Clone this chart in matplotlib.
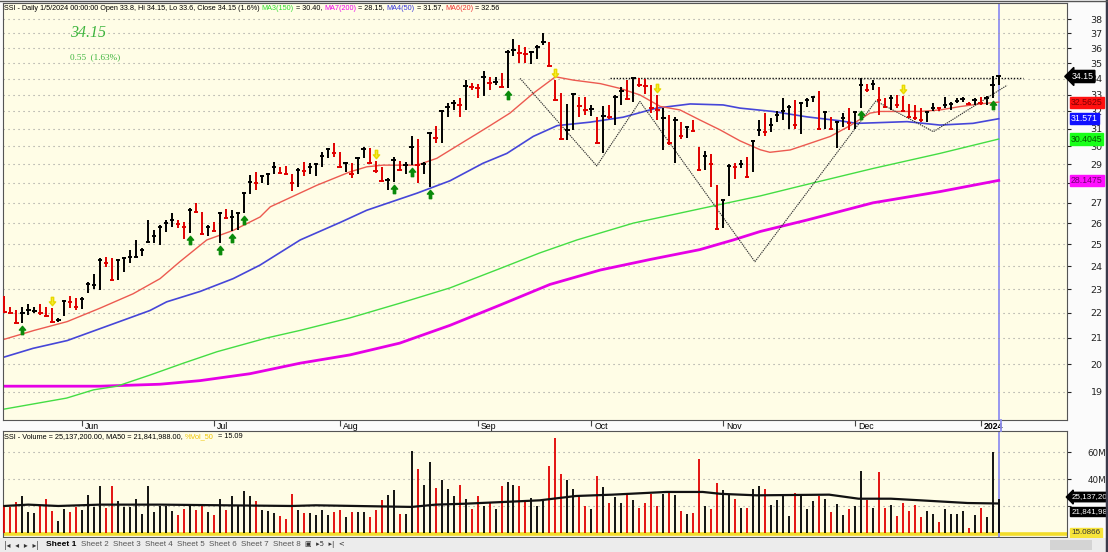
import matplotlib
matplotlib.use('Agg')
import matplotlib.pyplot as plt
import matplotlib.transforms as mtrans
from matplotlib.path import Path
from matplotlib.ticker import NullLocator, NullFormatter
from matplotlib.lines import Line2D
from matplotlib.patches import Rectangle

# ---- data (SSI daily, May 2023 - 5 Jan 2024) ----
highs = [22.70, 22.26, 22.12, 22.26, 22.37, 22.26, 22.37, 22.26, 22.19, 21.79,
         22.53, 22.71, 22.62, 22.68, 23.32, 23.65, 24.35, 24.43, 24.35, 24.31,
         24.43, 24.72, 25.20, 24.81, 26.15, 25.67, 25.91, 26.15, 26.48, 26.15,
         26.07, 26.72, 26.98, 26.55, 25.91, 26.07, 26.55, 26.67, 26.63, 26.51,
         27.52, 28.42, 28.59, 28.42, 28.54, 29.15, 28.84, 28.91, 28.47, 28.78,
         29.15, 29.09, 29.06, 29.66, 29.88, 30.16, 29.70, 29.15, 29.06, 29.42,
         29.97, 29.88, 29.19, 28.87, 28.30, 29.38, 29.19, 29.15, 30.57, 30.38,
         29.15, 30.80, 31.17, 32.09, 32.49, 32.69, 32.79, 33.92, 33.75, 33.70,
         34.52, 34.13, 34.09, 34.40, 35.85, 36.60, 36.20, 36.10, 35.80, 36.20,
         37.00, 36.43, 33.92, 33.10, 32.45, 33.10, 32.87, 32.90, 32.40, 31.65,
         32.30, 32.40, 33.00, 33.47, 33.92, 34.07, 34.07, 33.96, 33.60, 33.00,
         32.20, 31.80, 31.65, 31.40, 31.15, 31.50, 29.97, 29.74, 29.55, 27.92,
         27.15, 29.00, 29.06, 29.24, 29.38, 30.35, 31.50, 31.90, 31.60, 32.00,
         32.79, 32.39, 32.69, 32.59, 32.79, 32.96, 33.24, 32.00, 31.68, 31.43,
         31.90, 32.20, 32.00, 34.07, 33.70, 33.92, 33.50, 32.79, 33.00, 33.00,
         32.96, 32.43, 32.39, 32.20, 32.00, 32.49, 32.29, 32.90, 32.59, 32.84,
         32.86, 32.59, 32.79, 32.90, 32.96, 34.20, 34.15]
lows = [22.00, 21.95, 21.58, 21.58, 21.92, 21.99, 21.92, 21.85, 21.61, 21.65,
        21.89, 22.19, 22.12, 22.15, 22.82, 22.99, 22.96, 23.98, 23.36, 23.39,
        23.76, 24.13, 24.40, 24.46, 25.08, 25.08, 24.97, 25.59, 25.80, 25.75,
        25.24, 25.52, 26.48, 25.43, 25.39, 25.59, 25.04, 26.18, 25.62, 25.67,
        26.48, 27.44, 27.66, 28.00, 27.92, 28.51, 28.47, 28.42, 27.62, 27.83,
        28.37, 28.47, 28.37, 28.87, 29.33, 29.38, 28.78, 28.59, 28.30, 28.47,
        29.33, 29.02, 28.54, 28.08, 27.66, 28.08, 28.65, 28.47, 28.96, 28.00,
        28.51, 27.83, 30.16, 30.16, 31.65, 32.09, 31.68, 32.09, 33.33, 32.79,
        32.93, 33.33, 33.60, 33.46, 33.45, 35.50, 35.00, 35.00, 34.95, 35.25,
        36.20, 34.80, 32.60, 30.35, 30.35, 30.90, 31.68, 31.80, 31.73, 30.10,
        29.62, 31.53, 31.20, 32.40, 32.70, 32.55, 33.47, 33.05, 31.93, 31.50,
        29.80, 30.06, 29.10, 30.38, 30.44, 30.82, 28.65, 28.69, 27.83, 25.67,
        25.75, 27.36, 28.24, 28.78, 28.30, 28.59, 30.55, 30.55, 30.82, 31.40,
        31.50, 31.00, 31.00, 30.70, 32.29, 32.55, 30.92, 31.00, 30.92, 29.92,
        31.10, 30.92, 31.00, 32.20, 33.20, 33.30, 31.80, 32.20, 32.09, 32.20,
        32.00, 31.60, 31.50, 31.40, 31.40, 32.00, 32.00, 32.20, 32.09, 32.49,
        32.59, 32.39, 32.39, 32.39, 32.39, 32.79, 33.60]
closes = [22.05, 22.00, 21.60, 21.99, 22.12, 22.08, 21.99, 21.88, 21.63, 21.72,
          22.50, 22.46, 22.26, 22.56, 23.20, 23.17, 24.28, 24.16, 23.39, 24.28,
          24.38, 24.40, 24.43, 24.72, 25.12, 25.39, 25.80, 26.03, 26.15, 25.96,
          25.80, 26.63, 26.55, 25.47, 25.83, 25.63, 26.50, 26.24, 26.30, 26.48,
          27.49, 28.08, 28.00, 28.38, 28.51, 28.84, 28.54, 28.50, 28.00, 28.72,
          28.65, 28.84, 29.02, 29.46, 29.82, 29.64, 28.84, 29.06, 28.51, 29.33,
          29.82, 29.06, 28.63, 28.13, 28.19, 29.24, 28.69, 28.96, 29.97, 28.96,
          29.00, 30.75, 30.44, 32.03, 32.25, 32.53, 32.39, 33.55, 33.50, 33.40,
          34.13, 33.75, 33.82, 33.50, 35.75, 35.85, 35.65, 35.58, 35.72, 36.10,
          36.43, 34.80, 32.68, 30.38, 30.90, 33.05, 32.30, 32.10, 32.15, 30.15,
          31.73, 31.65, 32.90, 33.27, 32.73, 34.03, 33.60, 33.55, 32.20, 32.10,
          31.60, 30.15, 31.50, 30.56, 31.07, 30.87, 28.69, 29.46, 29.02, 25.72,
          27.15, 28.94, 28.85, 29.02, 28.33, 30.30, 30.92, 30.82, 31.20, 31.80,
          32.00, 32.29, 31.20, 32.49, 32.69, 32.90, 31.00, 31.96, 31.00, 31.35,
          31.60, 31.30, 31.94, 33.60, 33.30, 33.70, 32.69, 32.29, 32.79, 32.39,
          32.03, 31.70, 31.60, 31.50, 31.96, 32.23, 32.20, 32.39, 32.43, 32.64,
          32.75, 32.43, 32.69, 32.49, 32.84, 33.60, 34.15]
# u = up day (black), d = down day (red)
direction = ("ddduuudddu" "udduuuuddu" "uuuuuuuuud" "duddududuu" "uuduuudddu"
             "duuuuddudu" "uddduuduud" "uuduuududd" "ududuudduu" "uddduuddud"
             "uduududddd" "udududdudd" "uududuuduu" "uuduuududu" "uduududdud"
             "dddduuduuu" "ududuuu")
volume_m = [21.0, 19.3, 23.0, 27.4, 15.6, 14.8, 20.5, 25.4, 16.3, 8.9,
            18.0, 15.6, 19.3, 16.8, 27.9, 19.3, 34.8, 18.5, 34.8, 23.5,
            19.3, 19.3, 25.4, 14.3, 34.8, 15.6, 20.0, 20.0, 16.0, 13.1,
            18.0, 20.5, 16.8, 20.0, 15.6, 13.6, 24.9, 16.8, 27.4, 20.0,
            31.1, 27.4, 23.5, 16.8, 16.0, 15.0, 12.6, 10.6, 29.1, 16.8,
            15.0, 15.0, 13.1, 16.8, 13.1, 15.6, 16.8, 11.9, 15.6, 15.6,
            15.6, 11.9, 16.8, 24.2, 27.9, 31.6, 13.8, 14.3, 60.5, 47.2,
            35.8, 52.6, 33.3, 39.0, 32.8, 27.4, 35.3, 25.4, 18.0, 27.4,
            20.0, 22.5, 17.5, 34.8, 37.8, 35.8, 34.6, 23.5, 25.9, 20.0,
            23.5, 49.6, 70.4, 43.5, 39.0, 32.3, 28.4, 20.0, 18.0, 42.2,
            34.1, 22.5, 26.7, 22.5, 28.4, 24.2, 18.5, 22.5, 29.1, 20.0,
            29.1, 30.4, 28.4, 16.0, 14.3, 15.0, 54.6, 20.0, 17.5, 37.3,
            31.6, 27.9, 25.4, 18.5, 18.5, 32.3, 34.8, 32.8, 21.0, 24.2,
            27.4, 12.6, 29.9, 27.4, 18.0, 23.5, 27.4, 25.4, 15.6, 21.7,
            13.1, 17.5, 20.0, 45.9, 24.2, 18.5, 45.2, 18.5, 20.5, 12.6,
            22.2, 16.0, 20.5, 11.9, 16.3, 14.3, 8.1, 17.5, 14.3, 14.3,
            16.3, 3.7, 13.6, 18.5, 11.9, 60.0, 25.14]

# moving averages sampled from the chart (bar index, value)
ma20_idx = [0, 5, 10.5, 16, 21.5, 26, 29.3, 33.8, 38.2, 42.7, 44.4, 52.2, 57.7, 60.5, 63.2,
            66, 68.9, 72.2, 77.2, 81.1, 84.4, 88.3, 92, 95, 99.5, 102.8, 106.1, 109.5,
            112.8, 116.1, 119.5, 122.8, 126.2, 127.8, 131.2, 134.5, 137.9, 141.2, 144.5,
            146.2, 152.9, 156.2, 159.5, 162.8, 166]
ma20_val = [20.95, 21.3, 21.65, 22.2, 22.8, 23.45, 24.2, 25.2, 25.65, 26.3, 26.8, 27.9, 28.6,
            28.87, 28.96, 28.96, 28.96, 29.33, 30.35, 31.17, 31.9, 33.1, 34.13, 33.92, 33.7,
            33.4, 33.0, 32.3, 32.09, 31.5, 30.92, 30.3, 29.8, 29.66, 29.79, 30.16, 30.55,
            31.17, 31.9, 32.0, 32.0, 32.09, 32.29, 32.45, 32.56]
ma50_idx = [0, 4.8, 10.5, 16, 21.5, 24.3, 27.1, 32.7, 38.2, 42.7, 49.4, 56.2, 60.5, 68.9,
            74.4, 79.9, 83.9, 88.3, 92.3, 97.8, 103.3, 108.9, 114.5, 120, 122.8, 128.3,
            134, 139.5, 142.3, 145, 150.7, 156.2, 161.7, 166]
ma50_val = [20.27, 20.6, 20.9, 21.37, 21.85, 22.1, 22.46, 22.9, 23.45, 24.05, 25.2, 26.05,
            26.63, 27.49, 28.13, 29.06, 29.6, 30.55, 31.17, 31.37, 31.66, 32.2, 32.45, 32.39,
            32.2, 32.0, 31.68, 31.45, 31.3, 31.33, 31.4, 31.2, 31.3, 31.57]
ma150_idx = [0, 10.4, 14.9, 18.8, 24.3, 29.9, 35.5, 43.8, 49.4, 57.7, 66, 74.4, 82.8, 89.4,
             95.6, 105, 116.1, 126.2, 132.8, 145, 156.2, 166]
ma150_val = [18.4, 18.78, 19.07, 19.2, 19.6, 20.04, 20.47, 21.0, 21.3, 21.8, 22.4, 23.05,
             23.9, 24.6, 25.2, 26.0, 26.7, 27.35, 27.85, 28.78, 29.6, 30.4]
ma200_idx = [0, 16, 26, 32.7, 41, 49.4, 57.7, 66, 74.4, 82.8, 91.1, 99.5, 107.8, 116.1,
             121.7, 126.2, 134, 145, 156.2, 166]
ma200_val = [19.2, 19.2, 19.27, 19.4, 19.65, 20.04, 20.35, 20.8, 21.5, 22.33, 23.2, 23.83,
             24.3, 24.75, 25.2, 25.6, 26.15, 27.0, 27.57, 28.15]
vol_ma_idx = [0, 4, 9, 16, 26, 48, 52, 68, 72, 77, 83, 89.4, 95.4, 101.5, 110.5, 116.6,
              119.6, 125.6, 137.7, 142.6, 148, 152.9, 160.8, 166]
vol_ma_val = [20, 21, 20, 21, 21, 20, 20.5, 19.3, 21, 21.7, 22.9, 24.2, 27.4, 28.4, 30.4,
              30.4, 29, 27.9, 28.4, 25.4, 25.4, 24.2, 22.2, 21.84]

# hand-drawn pattern lines and resistance
pattern_x = [86.1, 98.9, 106.1, 125.3, 145.5, 155.1, 167.4]
pattern_y = [34.03, 28.92, 32.6, 24.2, 32.63, 30.82, 33.6]
resist_x = [101.1, 170.1]
resist_y = [34.07, 34.07]

buy_bars = [3, 31, 36, 38, 40, 65, 68, 71, 84, 143, 165]
sell_bars = [8, 62, 92, 109, 150]

month_idx = [13, 35, 56, 79, 98, 120, 142, 163]
month_lbl = ['Jun', 'Jul', 'Aug', 'Sep', 'Oct', 'Nov', 'Dec', '2024']
price_ticks = list(range(19, 39))
vol_ticks = [20, 40, 60]

n = len(closes)
assert len(highs) == n and len(lows) == n and len(direction) == n and len(volume_m) == n
idx = list(range(n))
cols = ['#000000' if d == 'u' else '#e00000' for d in direction]

# ---- layout ----
W, H = 1108, 552
fig = plt.figure(figsize=(W / 100, H / 100), dpi=100)
fig.patch.set_facecolor('#fbfbfb')
BG = '#fffde6'
UI = ['Liberation Sans', 'DejaVu Sans']


def fx(px):
    return px / W


def fy(py):
    return 1 - py / H


ax = fig.add_axes([fx(3), fy(420), fx(1067) - fx(3), fy(3) - fy(420)])
axv = fig.add_axes([fx(3), fy(537), fx(1067) - fx(3), fy(431) - fy(537)], sharex=ax)
for a in (ax, axv):
    a.set_facecolor(BG)
    for s in a.spines.values():
        s.set_color('#555555')
        s.set_linewidth(0.8)

ax.set_xlim(-0.22, 177.4)
ax.set_yscale('log')
ax.set_ylim(18.03, 39.15)
ax.yaxis.tick_right()
ax.set_yticks(price_ticks)
ax.set_yticklabels([str(t) for t in price_ticks])
ax.yaxis.set_minor_locator(NullLocator())
ax.yaxis.set_minor_formatter(NullFormatter())
ax.tick_params(axis='y', labelsize=6.8, length=3, pad=14, colors='#222222')
ax.grid(axis='y', linestyle=(0, (1, 3.5)), color='#9a9a9a', lw=0.8)
ax.set_xticks(month_idx)
ax.set_xticklabels([])
ax.tick_params(axis='x', length=4, color='#444444')
for i, lbl in zip(month_idx, month_lbl):
    ax.text(i + 0.5, -0.004, lbl, transform=ax.get_xaxis_transform(), ha='left', va='top',
            fontsize=6.3, family=UI, fontweight='bold' if lbl == '2024' else 'normal')

# moving averages
ax.plot(ma200_idx, ma200_val, color='#e600e6', lw=2.0, zorder=2)
ax.plot(ma150_idx, ma150_val, color='#44dd44', lw=1.0, zorder=2)
ax.plot(ma50_idx, ma50_val, color='#4646d8', lw=1.2, zorder=2)
ax.plot(ma20_idx, ma20_val, color='#ec5a50', lw=1.0, zorder=2)

# pattern lines
ax.plot(pattern_x, pattern_y, color='#333333', lw=0.8, ls=(0, (1.2, 0.8)), zorder=3)
ax.plot(resist_x, resist_y, color='#111111', lw=1.0, ls=(0, (1, 1.2)), zorder=3)

# bars
ax.axvline(n - 1, color='#9090f0', lw=1.3, zorder=1)
ax.vlines(idx, lows, highs, colors=cols, lw=1.4, zorder=4)
ax.hlines(closes, [i - 0.38 for i in idx], [i + 0.38 for i in idx], colors=cols, lw=1.4, zorder=4)

# signal arrows
up_arrow = Path([(0, 1), (-0.75, 0.1), (-0.28, 0.1), (-0.28, -1), (0.28, -1), (0.28, 0.1),
                 (0.75, 0.1), (0, 1)], closed=True)
dn_arrow = Path([(x, -y) for x, y in up_arrow.vertices], closed=True)
below = mtrans.offset_copy(ax.transData, fig=fig, y=-7, units='dots')
above = mtrans.offset_copy(ax.transData, fig=fig, y=7, units='dots')
ax.plot(buy_bars, [lows[i] for i in buy_bars], ls='none', marker=up_arrow, ms=6,
        color='#0a8a0a', mec='#0a8a0a', transform=below, zorder=5)
ax.plot(sell_bars, [highs[i] for i in sell_bars], ls='none', marker=dn_arrow, ms=6,
        color='#f6ee2a', mec='#e8d800', transform=above, zorder=5)

# right-side value tags
tag = mtrans.blended_transform_factory(ax.transAxes, ax.transData)
ax.text(1.004, closes[-1], '34.15', transform=tag, fontsize=6.3, family=UI, color='white',
        va='center', ha='left', zorder=10,
        bbox=dict(boxstyle='larrow,pad=0.18', fc='black', ec='black'))
for val, txt, fc, tc in [(ma20_val[-1], '32.5625', '#ff1010', '#7a0000'),
                         (ma50_val[-1], '31.571', '#1010ff', '#ffffff'),
                         (ma150_val[-1], '30.4045', '#18ff18', '#005500'),
                         (ma200_val[-1], '28.1475', '#ff10ff', '#700070')]:
    ax.text(1.0035, val, txt, transform=tag, fontsize=6.3, family=UI, color=tc, va='center',
            ha='left', clip_on=False, zorder=10,
            bbox=dict(boxstyle='square,pad=0.12', fc=fc, ec=fc))

# big close text
ax.text(67 / 1064, 1 - 30 / 417, '34.15', transform=ax.transAxes, fontsize=11.5,
        family='Liberation Serif', style='italic', color='#3cb43c', va='center')
ax.text(67 / 1064, 1 - 54 / 417, '0.55  (1.63%)', transform=ax.transAxes, fontsize=6.6,
        family='Liberation Serif', color='#3cb43c', va='center')

# ---- volume pane ----
axv.set_ylim(-3, 75.6)
axv.yaxis.tick_right()
axv.set_yticks(vol_ticks)
axv.set_yticklabels(['', '40M', '60M'])
axv.tick_params(axis='y', labelsize=6.3, length=3, pad=12, colors='#222222')
axv.tick_params(axis='x', length=0, labelbottom=False)
axv.grid(axis='y', linestyle=(0, (1, 3.5)), color='#9a9a9a', lw=0.8)
axv.axhline(-0.9, color='#f2dc2a', lw=2.6, zorder=1)
axv.axvline(n - 1, color='#9090f0', lw=1.3, zorder=1)
axv.vlines(idx, 0, volume_m, colors=cols, lw=1.3, zorder=3)
axv.plot(vol_ma_idx, vol_ma_val, color='#111111', lw=1.6, zorder=4)
vtag = mtrans.blended_transform_factory(axv.transAxes, axv.transData)
axv.text(1.004, volume_m[-1] + 1.5, '25,137,20', transform=vtag, fontsize=5.8, family=UI,
         color='white', va='center', ha='left',
         bbox=dict(boxstyle='larrow,pad=0.15', fc='black', ec='black'))
axv.text(1.004, vol_ma_val[-1] - 6, '21,841,98', transform=vtag, fontsize=5.8, family=UI,
         color='white', va='center', ha='left',
         bbox=dict(boxstyle='square,pad=0.15', fc='black', ec='black'))
axv.text(1.004, 0, '15.0866', transform=vtag, fontsize=5.8, family=UI, color='#333333',
         va='center', ha='left', bbox=dict(boxstyle='square,pad=0.15', fc='#f7e43a', ec='#f7e43a'))

# current-date line across the gap between panes
fig.add_artist(Line2D([fx(1000.6)] * 2, [fy(420), fy(431)], color='#9090f0', lw=1.3))

# ---- header texts ----
renderer = fig.canvas.get_renderer()


def run_text(x_px, y_px, parts, size):
    x = x_px
    probe = fig.text(0, 0, '|', fontsize=size, family=UI)
    pw = probe.get_window_extent(renderer).width
    probe.remove()
    for s, c in parts:
        fig.text(fx(x), fy(y_px), s, color=c, fontsize=size, family=UI, va='center', ha='left')
        m = fig.text(0, 0, s + '|', fontsize=size, family=UI)
        x += m.get_window_extent(renderer).width - pw
        m.remove()


run_text(4, 8, [("SSI - Daily 1/5/2024 00:00:00 Open 33.8, Hi 34.15, Lo 33.6, Close 34.15 (1.6%) ", 'black'),
                ("MA3(150)", '#30dd30'), (" = 30.40, ", 'black'),
                ("MA7(200)", '#ee00ee'), (" = 28.15, ", 'black'),
                ("MA4(50)", '#3535dd'), (" = 31.57, ", 'black'),
                ("MA6(20)", '#ee3333'), (" = 32.56", 'black')], 5.2)
run_text(4, 437, [("SSI - Volume = 25,137,200.00, MA50 = 21,841,988.00, ", 'black'),
                  ("%Vol_50", '#f0c400'), ("  = 15.09", 'black')], 5.3)

# ---- sheet tab strip ----
fig.add_artist(Rectangle((0, 0), 1, fy(538), transform=fig.transFigure, fc='#ececec', ec='none'))
fig.text(fx(4), fy(545), '|◂  ◂  ▸  ▸|', fontsize=5.5, color='#333333', va='center')
fig.text(fx(46), fy(545), 'Sheet 1', fontsize=6.0, family=UI, fontweight='bold', va='center')
for k in range(2, 9):
    fig.text(fx(81 + (k - 2) * 32), fy(545), 'Sheet %d' % k, fontsize=5.8, family=UI,
             color='#555555', va='center')
fig.text(fx(305), fy(545), '▣  ▸5  ▸|  <', fontsize=5.0, color='#333333', va='center')
fig.add_artist(Rectangle((fx(1050), fy(550)), fx(42), fy(540) - fy(550), transform=fig.transFigure,
                         fc='#d4d4d4', ec='none'))
fig.add_artist(Line2D([fx(1106.5)] * 2, [0, 1], color='#3a3a4a', lw=2.5))
fig.add_artist(Line2D([0, 1], [fy(0.5)] * 2, color='#555555', lw=1))

fig.savefig('out.png', dpi=100, facecolor=fig.get_facecolor())
